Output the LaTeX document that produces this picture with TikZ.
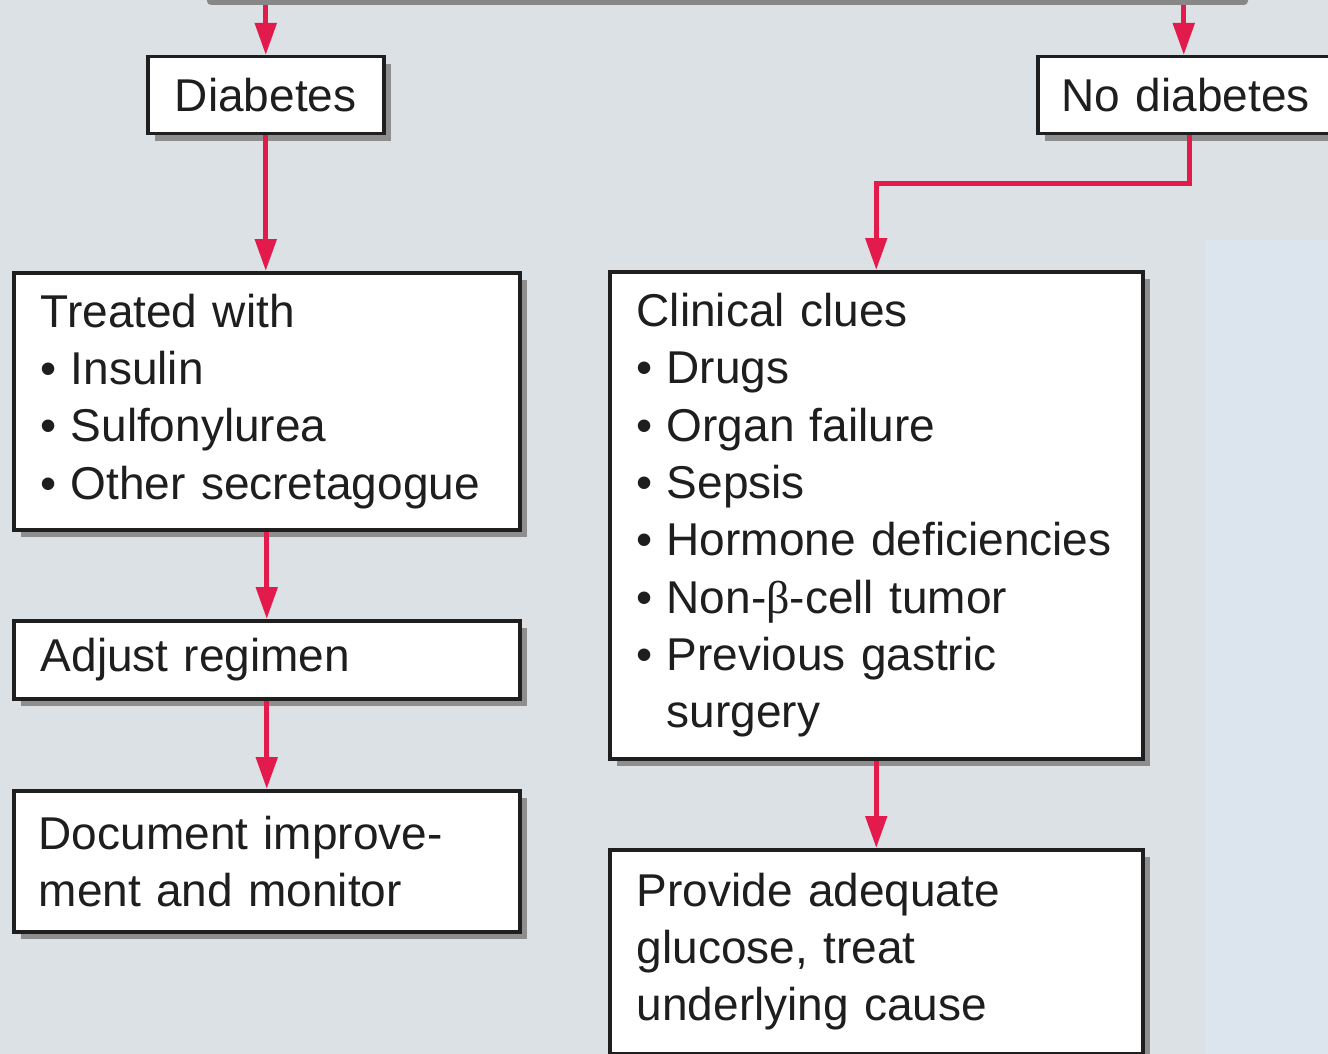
\documentclass[tikz,border=0pt]{standalone}
\usepackage{fontspec}
\setmainfont{Liberation Sans}
\newfontfamily\betafont{Liberation Serif}
\usetikzlibrary{arrows.meta,shadows}
\definecolor{bg}{HTML}{DCE1E5}
\definecolor{panel}{HTML}{DCE4EE}
\definecolor{arr}{HTML}{E31B4C}
\definecolor{shad}{HTML}{8E8E8E}
\definecolor{txt}{HTML}{1E1E1E}
\newcommand\bl{\makebox[30pt][l]{•}}
\begin{document}
\begin{tikzpicture}[x=1pt,y=-1pt,
  box/.style={draw=black!88, line width=3.5pt, fill=white, anchor=north west,
    inner ysep=0pt, align=left, text=txt,
    font=\fontsize{46}{57.3}\selectfont,
    drop shadow={shadow xshift=7pt, shadow yshift=-7pt, fill=shad, opacity=1}},
  flow/.style={draw=arr, line width=5pt, -{Triangle[length=32pt,width=21pt]}}]
\useasboundingbox (0,0) rectangle (1328,1054);
\clip (0,0) rectangle (1328,1054);
\fill[bg] (0,0) rectangle (1328,1054);
\fill[panel] (1205,240) rectangle (1328,1054);

% top bar (cut-off box above)
\node[fill=shad!95!black, rounded corners=4pt, minimum width=1041pt, minimum height=50pt, inner sep=0pt] (topbar) at (727.5,-20) {};

\node[box, inner xsep=26pt, align=center, text width=184pt, minimum width=236pt, minimum height=77pt] (dia) at (146,55) {Diabetes};
\node[box, inner xsep=24pt, text width=256pt, minimum width=304pt, minimum height=77pt] (nodia) at (1036,55) {No diabetes};

\node[box, inner xsep=27pt, text width=452pt, minimum width=506pt, minimum height=257pt] (treat) at (12,271)
  {Treated with\\\bl Insulin\\\bl Sulfonylurea\\\bl Other secretagogue};
\node[box, inner xsep=27pt, text width=452pt, minimum width=506pt, minimum height=78pt] (adj) at (12,619)
  {Adjust regimen};
\node[box, inner xsep=25pt, text width=456pt, minimum width=506pt, minimum height=141pt] (doc) at (12,789)
  {Document improve-\\ment and monitor};

\node[box, inner xsep=27pt, text width=479pt, minimum width=533pt, minimum height=487pt] (clin) at (608,270)
  {Clinical clues\\\bl Drugs\\\bl Organ failure\\\bl Sepsis\\\mbox{\bl Hormone deficiencies}\\\bl Non-{\betafont β}-cell tumor\\\bl Previous gastric\\\phantom{\bl}surgery};
\node[box, inner xsep=27pt, text width=479pt, minimum width=533pt, minimum height=204pt] (prov) at (608,848)
  {Provide adequate\\glucose, treat\\underlying cause};

% connectors
\coordinate (ndin) at ([xshift=-6pt]nodia.north);
\draw[flow] (topbar.south -| dia.north) -- (dia.north);
\draw[flow] (topbar.south -| ndin) -- (ndin);
\draw[flow] (dia.south) -- (dia.south |- treat.north);
\draw[flow] (treat.south) -- (adj.north);
\draw[flow] (adj.south) -- (doc.north);
\draw[flow] (nodia.south) -- ++(0,48) -| (clin.north);
\draw[flow] (clin.south) -- (prov.north);
\end{tikzpicture}
\end{document}
